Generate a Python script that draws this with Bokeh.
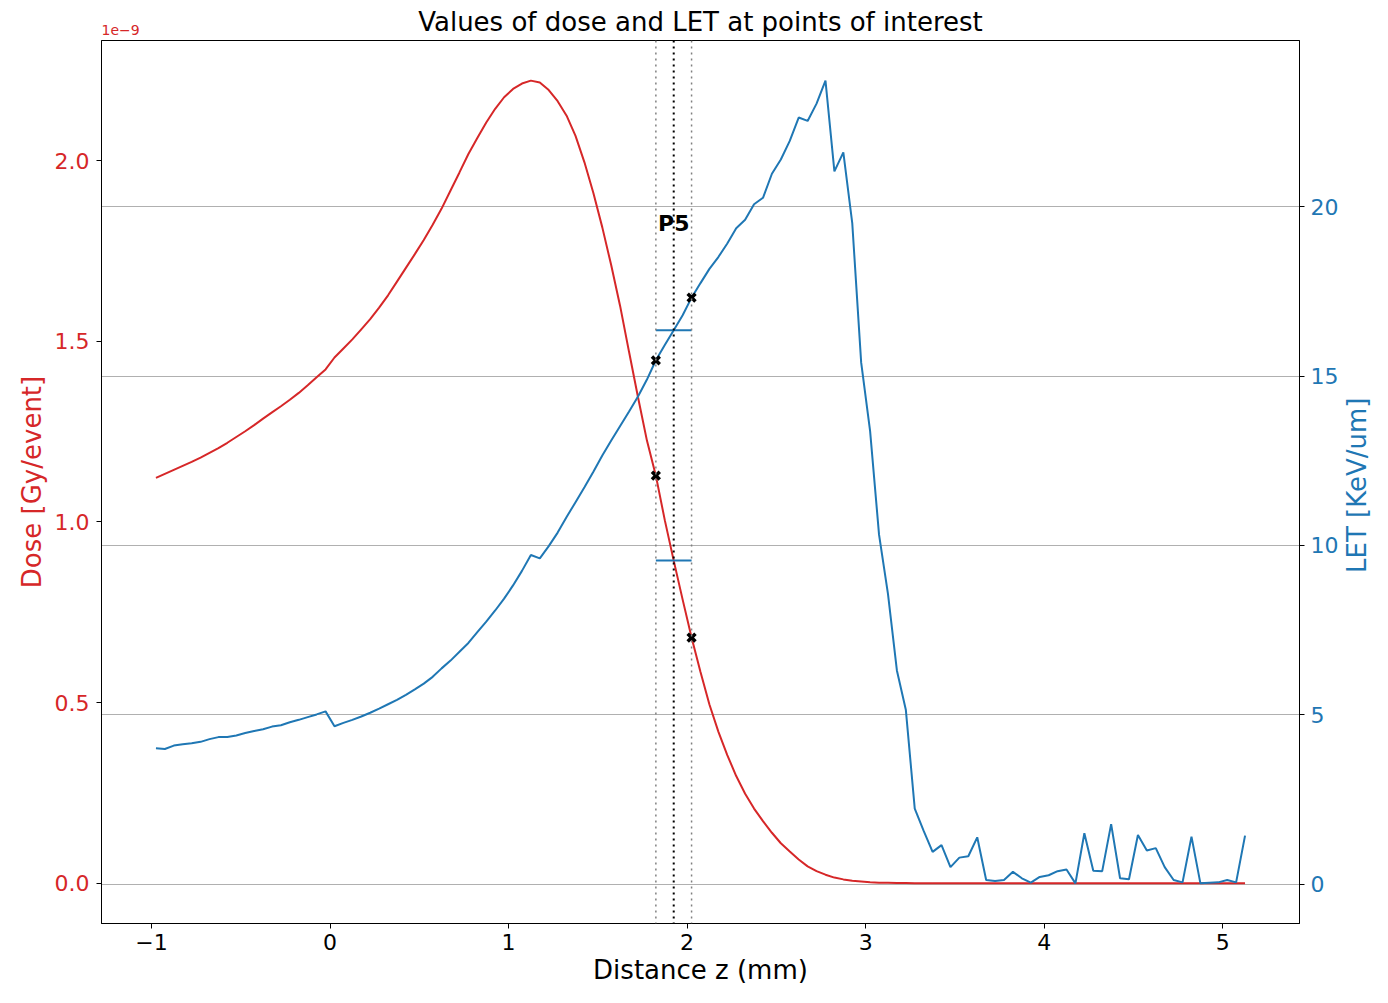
import math
from bokeh.plotting import figure
from bokeh.layouts import column, row
from bokeh.models import (Range1d, LinearAxis, FixedTicker, Grid, Span, Label,
                          NumeralTickFormatter)
from bokeh.embed import file_html
from bokeh.resources import INLINE

# ---------------- data ----------------
Z_MM = [
    -0.975, -0.925, -0.875, -0.825, -0.775, -0.725, -0.675, -0.625, -0.575, -0.525,
    -0.475, -0.425, -0.375, -0.325, -0.275, -0.225, -0.175, -0.125, -0.075, -0.025,
    0.025, 0.075, 0.125, 0.175, 0.225, 0.275, 0.325, 0.375, 0.425, 0.475,
    0.525, 0.575, 0.625, 0.675, 0.725, 0.775, 0.825, 0.875, 0.925, 0.975,
    1.025, 1.075, 1.125, 1.175, 1.225, 1.275, 1.325, 1.375, 1.425, 1.475,
    1.525, 1.575, 1.625, 1.675, 1.725, 1.775, 1.825, 1.875, 1.925, 1.975,
    2.025, 2.075, 2.125, 2.175, 2.225, 2.275, 2.325, 2.375, 2.425, 2.475,
    2.525, 2.575, 2.625, 2.675, 2.725, 2.775, 2.825, 2.875, 2.925, 2.975,
    3.025, 3.075, 3.125, 3.175, 3.225, 3.275, 3.325, 3.375, 3.425, 3.475,
    3.525, 3.575, 3.625, 3.675, 3.725, 3.775, 3.825, 3.875, 3.925, 3.975,
    4.025, 4.075, 4.125, 4.175, 4.225, 4.275, 4.325, 4.375, 4.425, 4.475,
    4.525, 4.575, 4.625, 4.675, 4.725, 4.775, 4.825, 4.875, 4.925, 4.975,
    5.025, 5.075, 5.125,
]

# dose in units of 1e-9 Gy/event
DOSE_E9 = [
    1.122, 1.133, 1.144, 1.155, 1.166, 1.178, 1.191, 1.204, 1.219, 1.235,
    1.251, 1.268, 1.286, 1.303, 1.320, 1.338, 1.357, 1.378, 1.400, 1.422,
    1.455, 1.480, 1.505, 1.533, 1.561, 1.593, 1.627, 1.665, 1.703, 1.741,
    1.780, 1.822, 1.867, 1.917, 1.967, 2.018, 2.062, 2.105, 2.143, 2.175,
    2.198, 2.213, 2.221, 2.216, 2.195, 2.164, 2.124, 2.068, 1.995, 1.910,
    1.815, 1.710, 1.597, 1.470, 1.345, 1.225, 1.128, 1.005, 0.893, 0.785,
    0.680, 0.585, 0.495, 0.420, 0.355, 0.297, 0.248, 0.207, 0.172, 0.140,
    0.111, 0.088, 0.066, 0.047, 0.034, 0.024, 0.016, 0.011, 0.007, 0.005,
    0.003, 0.002, 0.0015, 0.001, 0.0008, 0.0006, 0.0005, 0.0004, 0.0003, 0.0003,
    0.0002, 0.0002, 0.0002, 0.0001, 0.0001, 0.0001, 0.0001, 0.0001, 0.0001, 0.0001,
    0.0001, 0.0001, 0.0001, 0.0001, 0.0, 0.0, 0.0, 0.0, 0.0, 0.0,
    0.0, 0.0, 0.0, 0.0, 0.0, 0.0, 0.0, 0.0, 0.0, 0.0,
    0.0, 0.0, 0.0,
]

# LET in KeV/um
LET = [
    4.01, 3.99, 4.09, 4.13, 4.16, 4.20, 4.28, 4.34, 4.34, 4.39,
    4.46, 4.52, 4.57, 4.65, 4.69, 4.78, 4.85, 4.93, 5.01, 5.10,
    4.66, 4.76, 4.85, 4.95, 5.06, 5.18, 5.31, 5.44, 5.59, 5.75,
    5.92, 6.12, 6.37, 6.60, 6.86, 7.12, 7.44, 7.75, 8.08, 8.43,
    8.82, 9.25, 9.72, 9.62, 9.98, 10.38, 10.84, 11.28, 11.72, 12.18,
    12.66, 13.10, 13.53, 13.96, 14.40, 14.90, 15.47, 15.92, 16.36, 16.80,
    17.32, 17.75, 18.17, 18.52, 18.92, 19.37, 19.62, 20.08, 20.27, 20.98,
    21.40, 21.95, 22.64, 22.54, 23.05, 23.73, 21.05, 21.61, 19.52, 15.40,
    13.38, 10.32, 8.57, 6.31, 5.15, 2.23, 1.57, 0.95, 1.15, 0.50,
    0.78, 0.82, 1.38, 0.12, 0.09, 0.12, 0.36, 0.17, 0.04, 0.21,
    0.26, 0.38, 0.43, 0.02, 1.50, 0.39, 0.38, 1.77, 0.17, 0.14,
    1.45, 0.99, 1.06, 0.50, 0.12, 0.05, 1.40, 0.02, 0.04, 0.05,
    0.12, 0.05, 1.43,
]

# point of interest
POI_NAME = "P5"
POI_Z = 1.925
POI_LOW = 1.825
POI_HIGH = 2.025
POI_MEAN_DOSE_E9 = 0.893
POI_MEAN_LET = 16.36

X_TICKS = [-1, 0, 1, 2, 3, 4, 5]
DOSE_TICKS = [0.0, 0.5, 1.0, 1.5, 2.0]
LET_TICKS = [0, 5, 10, 15, 20]

TITLE = "Values of dose and LET at points of interest"
X_LABEL = "Distance z (mm)"
DOSE_LABEL = "Dose [Gy/event]"
LET_LABEL = "LET [KeV/um]"
DOSE_OFFSET_TEXT = "1e\u22129"

RED = "#d62728"
BLUE = "#1f77b4"
FONT = "DejaVu Sans"

# layout (pixels)
TOTAL_W, TOTAL_H = 1372, 987
TOP_H = 40
RIGHT_W = 30
MAIN_W = TOTAL_W - RIGHT_W
MAIN_H = TOTAL_H - TOP_H
LEFT_B, RIGHT_B, BOTTOM_B = 101, MAIN_W - 1299, 63
FRAME_H = MAIN_H - BOTTOM_B


def padded(vals, frac=0.05):
    lo, hi = min(vals), max(vals)
    m = (hi - lo) * frac
    return lo - m, hi + m


def blank_panel(w, h):
    f = figure(width=w, height=h, output_backend="svg", toolbar_location=None,
               x_range=Range1d(0, w), y_range=Range1d(0, h), min_border=0,
               x_axis_location=None, y_axis_location=None)
    f.grid.visible = False
    f.outline_line_color = None
    f.background_fill_color = "white"
    f.border_fill_color = "white"
    return f


xlo, xhi = padded(Z_MM)
dlo, dhi = padded(DOSE_E9)
llo, lhi = padded(LET)

# ---------------- main plot ----------------
p = figure(width=MAIN_W, height=MAIN_H, output_backend="svg", toolbar_location=None,
           x_range=Range1d(xlo, xhi), y_range=Range1d(dlo, dhi),
           min_border_left=LEFT_B, min_border_right=RIGHT_B, min_border_top=0,
           min_border_bottom=BOTTOM_B)
p.extra_y_ranges = {"let": Range1d(llo, lhi)}

p.outline_line_color = "black"
p.outline_line_alpha = 1.0
p.outline_line_width = 1
p.background_fill_color = "white"
p.border_fill_color = "white"
p.xgrid.visible = False
p.ygrid.visible = False

xa = p.xaxis[0]
xa.ticker = FixedTicker(ticks=X_TICKS)
xa.major_label_overrides = {t: ("\u2212" + str(-t) if t < 0 else str(t)) for t in X_TICKS}
xa.axis_label = X_LABEL
xa.axis_label_text_color = "black"
xa.major_label_text_color = "black"

ya = p.yaxis[0]
ya.ticker = FixedTicker(ticks=DOSE_TICKS)
ya.formatter = NumeralTickFormatter(format="0.0")
ya.axis_label = DOSE_LABEL
ya.axis_label_text_color = RED
ya.major_label_text_color = RED

ra = LinearAxis(y_range_name="let", ticker=FixedTicker(ticks=LET_TICKS))
ra.major_label_text_color = BLUE
p.add_layout(ra, "right")

for ax in (xa, ya, ra):
    ax.axis_line_color = "black"
    ax.major_tick_line_color = "black"
    ax.major_tick_in = 0
    ax.major_tick_out = 5
    ax.minor_tick_in = 0
    ax.minor_tick_out = 0
    ax.major_label_text_font = FONT
    ax.major_label_text_font_size = "22px"
    ax.major_label_standoff = 6
    ax.axis_label_text_font = FONT
    ax.axis_label_text_font_size = "26px"
    ax.axis_label_text_font_style = "normal"
ya.major_label_standoff = 7
xa.major_label_standoff = 5
xa.axis_label_standoff = 2
ya.axis_label_standoff = 5

p.add_layout(Grid(dimension=1, ticker=ra.ticker, y_range_name="let",
                  grid_line_color="#b0b0b0", grid_line_width=1))

p.line(Z_MM, DOSE_E9, line_color=RED, line_width=2)
p.line(Z_MM, LET, line_color=BLUE, line_width=2, y_range_name="let")

p.add_layout(Span(location=POI_LOW, dimension="height", line_color="grey",
                  line_dash="2 4", line_width=1.5))
p.add_layout(Span(location=POI_HIGH, dimension="height", line_color="grey",
                  line_dash="2 4", line_width=1.5))
p.add_layout(Span(location=POI_Z, dimension="height", line_color="black",
                  line_dash="2 4", line_width=2))

p.segment(x0=[POI_LOW], x1=[POI_HIGH], y0=[POI_MEAN_DOSE_E9], y1=[POI_MEAN_DOSE_E9],
          line_color=BLUE, line_width=2)
p.segment(x0=[POI_LOW], x1=[POI_HIGH], y0=[POI_MEAN_LET], y1=[POI_MEAN_LET],
          line_color=BLUE, line_width=2, y_range_name="let")

i_lo = Z_MM.index(POI_LOW)
i_hi = Z_MM.index(POI_HIGH)
p.scatter([POI_LOW, POI_HIGH], [DOSE_E9[i_lo], DOSE_E9[i_hi]], marker="x",
          size=11, line_width=3.5, line_color="black")
p.scatter([POI_LOW, POI_HIGH], [LET[i_lo], LET[i_hi]], marker="x",
          size=11, line_width=3.5, line_color="black", y_range_name="let")

p.add_layout(Label(x=POI_Z, y=19.5, y_range_name="let", text=POI_NAME,
                   text_font=FONT, text_font_size="22px", text_font_style="bold",
                   text_align="center", text_baseline="middle", text_color="black"))

# ---------------- title strip (title + dose offset text) ----------------
top = blank_panel(TOTAL_W, TOP_H)
top.add_layout(Label(x=700, y=TOP_H - 21, text=TITLE, text_font=FONT,
                     text_font_size="26px", text_color="black",
                     text_align="center", text_baseline="middle"))
top.add_layout(Label(x=LEFT_B, y=TOP_H - 29, text=DOSE_OFFSET_TEXT, text_font=FONT,
                     text_font_size="14px", text_color=RED,
                     text_align="left", text_baseline="middle"))

# ---------------- right strip (LET axis title, reading upwards) ----------------
side = blank_panel(RIGHT_W, MAIN_H)
side.add_layout(Label(x=RIGHT_W / 2 - 1, y=MAIN_H - FRAME_H / 2 - 35, angle=math.pi / 2,
                      text=LET_LABEL, text_font=FONT, text_font_size="26px",
                      text_color=BLUE, text_align="center", text_baseline="middle"))

layout = column(top, row(p, side, spacing=0), spacing=0)
open("out.html", "w").write(file_html(layout, INLINE))
